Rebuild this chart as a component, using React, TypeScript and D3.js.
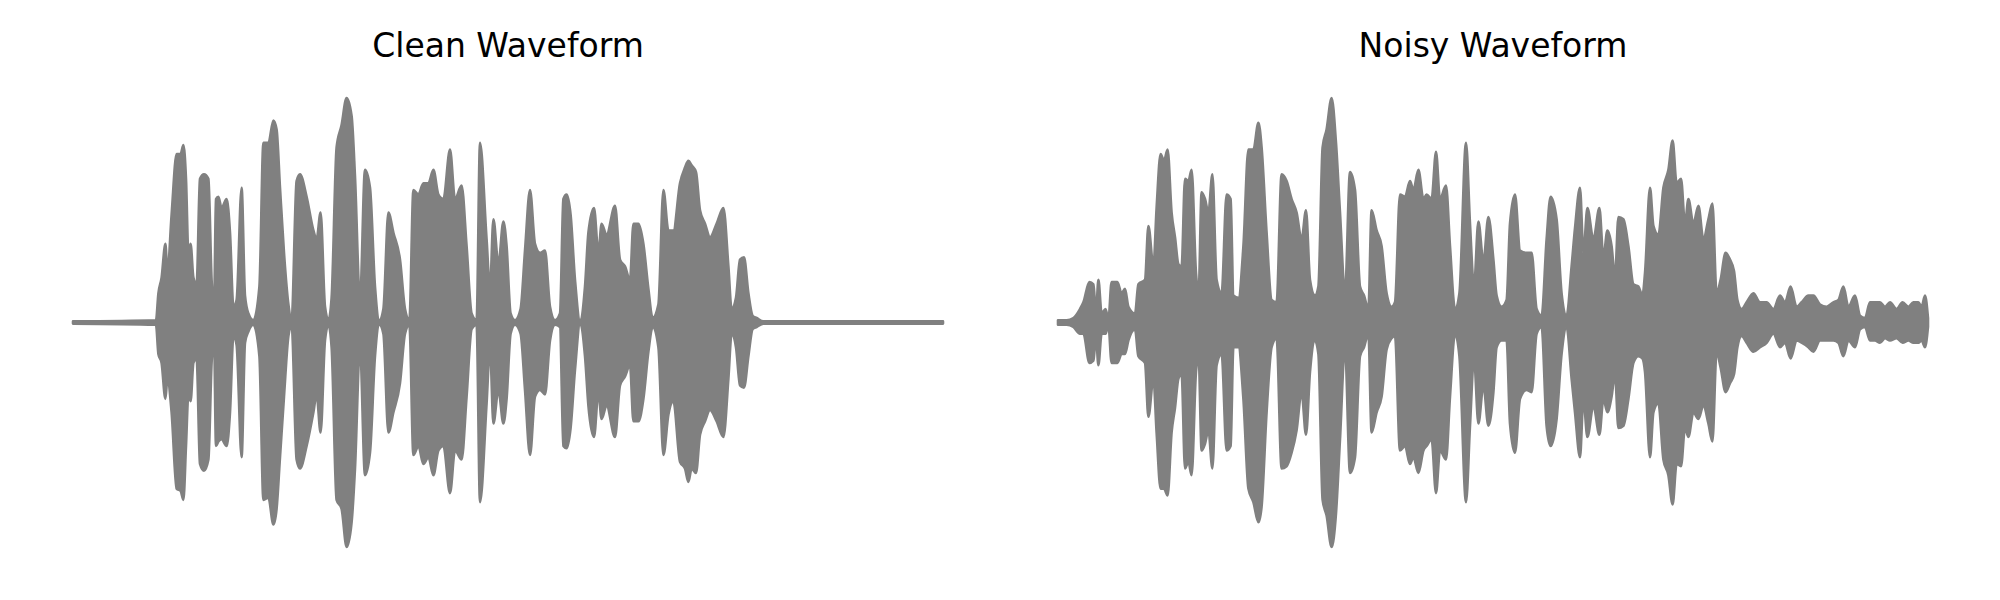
import React from "react";
import * as d3 from "d3";

// envelope of each waveform: time (s), upper peak, lower peak
const cleanTime = [
  0, 0.415, 0.427, 0.443, 0.462, 0.472, 0.493, 0.518, 0.538, 0.552, 0.565, 0.577, 0.588, 0.602, 0.618,
  0.635, 0.655, 0.677, 0.693, 0.705, 0.715, 0.727, 0.743, 0.768, 0.785, 0.802, 0.818, 0.843, 0.86, 0.877,
  0.902, 0.932, 0.952, 0.977, 1.002, 1.018, 1.035, 1.055, 1.077, 1.093, 1.118, 1.135, 1.168, 1.202, 1.218,
  1.238, 1.26, 1.277, 1.293, 1.318, 1.343, 1.368, 1.393, 1.41, 1.435, 1.46, 1.485, 1.51, 1.532, 1.552,
  1.577, 1.602, 1.635, 1.66, 1.682, 1.702, 1.727, 1.752, 1.777, 1.802, 1.827, 1.852, 1.885, 1.91, 1.943,
  1.968, 1.993, 2.018, 2.035, 2.068, 2.085, 2.102, 2.127, 2.152, 2.168, 2.188, 2.21, 2.238, 2.26, 2.285,
  2.31, 2.335, 2.36, 2.385, 2.41, 2.435, 2.452, 2.468, 2.488, 2.51, 2.535, 2.56, 2.577, 2.605, 2.627,
  2.643, 2.668, 2.71, 2.735, 2.76, 2.785, 2.802, 2.827, 2.852, 2.877, 2.898, 2.927, 2.952, 2.977, 3.002,
  3.035, 3.06, 3.077, 3.093, 3.115, 3.135, 3.16, 3.185, 3.218, 3.252, 3.277, 3.293, 3.315, 3.335, 3.355,
  3.377, 3.398, 3.418, 3.452, 4.35,
];
const cleanUpper = [
  0.005, 0.01, 0.13, 0.2, 0.35, 0.22, 0.48, 0.75, 0.75, 0.79, 0.64, 0.31, 0.35, 0.2, 0.17,
  0.64, 0.66, 0.64, 0.19, 0.06, 0.55, 0.56, 0.51, 0.55, 0.4, 0.07, 0.1, 0.6, 0.12, 0.04,
  0.01, 0.16, 0.8, 0.8, 0.9, 0.86, 0.6, 0.31, 0.08, 0.01, 0.63, 0.66, 0.56, 0.41, 0.37,
  0.49, 0.07, 0.01, 0.11, 0.78, 0.88, 1.0, 0.92, 0.65, 0.1, 0.68, 0.6, 0.16, 0.01, 0.06,
  0.49, 0.4, 0.28, 0.06, 0.01, 0.59, 0.57, 0.62, 0.62, 0.68, 0.57, 0.55, 0.77, 0.55, 0.61,
  0.34, 0.04, 0.01, 0.8, 0.37, 0.15, 0.46, 0.26, 0.45, 0.34, 0.04, 0.01, 0.06, 0.32, 0.59,
  0.35, 0.31, 0.32, 0.07, 0.01, 0.04, 0.55, 0.57, 0.48, 0.19, 0.01, 0.16, 0.4, 0.51, 0.31,
  0.44, 0.39, 0.52, 0.28, 0.25, 0.19, 0.44, 0.44, 0.35, 0.15, 0.02, 0.08, 0.59, 0.41, 0.41,
  0.62, 0.69, 0.72, 0.7, 0.67, 0.5, 0.44, 0.38, 0.44, 0.51, 0.25, 0.06, 0.11, 0.28, 0.29,
  0.13, 0.03, 0.02, 0.005, 0.005,
];
const cleanLower = [
  -0.005, -0.01, -0.14, -0.18, -0.34, -0.25, -0.4, -0.74, -0.75, -0.79, -0.55, -0.32, -0.35, -0.18, -0.16,
  -0.63, -0.66, -0.61, -0.18, -0.06, -0.55, -0.53, -0.52, -0.55, -0.4, -0.06, -0.1, -0.6, -0.09, -0.04,
  -0.01, -0.15, -0.79, -0.78, -0.9, -0.83, -0.6, -0.33, -0.06, -0.01, -0.61, -0.65, -0.55, -0.4, -0.32,
  -0.49, -0.08, -0.01, -0.11, -0.79, -0.83, -1.0, -0.89, -0.65, -0.11, -0.68, -0.58, -0.15, -0.01, -0.05,
  -0.49, -0.4, -0.27, -0.05, -0.01, -0.59, -0.55, -0.63, -0.6, -0.68, -0.57, -0.55, -0.76, -0.57, -0.61,
  -0.33, -0.03, -0.01, -0.8, -0.36, -0.11, -0.45, -0.3, -0.45, -0.34, -0.05, -0.01, -0.05, -0.3, -0.59,
  -0.33, -0.3, -0.32, -0.08, -0.01, -0.02, -0.55, -0.56, -0.47, -0.21, -0.01, -0.15, -0.37, -0.51, -0.31,
  -0.43, -0.37, -0.51, -0.28, -0.24, -0.19, -0.44, -0.44, -0.34, -0.13, -0.02, -0.11, -0.59, -0.41, -0.35,
  -0.62, -0.65, -0.71, -0.65, -0.67, -0.5, -0.44, -0.39, -0.44, -0.51, -0.25, -0.05, -0.11, -0.28, -0.29,
  -0.15, -0.03, -0.02, -0.005, -0.005,
];

const noisyTime = [
  0, 0.043, 0.077, 0.11, 0.127, 0.157, 0.177, 0.19, 0.202, 0.218, 0.238, 0.252, 0.268, 0.297, 0.318,
  0.335, 0.352, 0.385, 0.402, 0.435, 0.452, 0.477, 0.493, 0.513, 0.53, 0.548, 0.568, 0.585, 0.602, 0.618,
  0.635, 0.652, 0.668, 0.69, 0.703, 0.718, 0.735, 0.752, 0.772, 0.793, 0.818, 0.843, 0.863, 0.877, 0.902,
  0.927, 0.952, 0.977, 1.002, 1.018, 1.043, 1.068, 1.093, 1.118, 1.143, 1.168, 1.193, 1.218, 1.24, 1.26,
  1.285, 1.302, 1.323, 1.343, 1.368, 1.39, 1.41, 1.435, 1.46, 1.485, 1.51, 1.53, 1.552, 1.568, 1.593,
  1.618, 1.643, 1.668, 1.685, 1.71, 1.735, 1.76, 1.777, 1.802, 1.827, 1.843, 1.868, 1.89, 1.91, 1.94,
  1.96, 1.985, 2.007, 2.04, 2.06, 2.08, 2.102, 2.127, 2.152, 2.177, 2.193, 2.218, 2.243, 2.26, 2.285,
  2.31, 2.343, 2.368, 2.393, 2.418, 2.443, 2.463, 2.493, 2.518, 2.543, 2.568, 2.585, 2.61, 2.627, 2.647,
  2.677, 2.707, 2.727, 2.747, 2.768, 2.785, 2.802, 2.827, 2.852, 2.877, 2.902, 2.922, 2.935, 2.96, 2.977,
  3.002, 3.027, 3.052, 3.073, 3.093, 3.115, 3.135, 3.152, 3.177, 3.202, 3.227, 3.252, 3.272, 3.293, 3.313,
  3.338, 3.36, 3.38, 3.397, 3.418, 3.443, 3.477, 3.51, 3.543, 3.577, 3.61, 3.635, 3.663, 3.693, 3.718,
  3.752, 3.777, 3.81, 3.843, 3.877, 3.902, 3.927, 3.952, 3.985, 4.01, 4.035, 4.06, 4.085, 4.11, 4.135,
  4.16, 4.193, 4.223, 4.252, 4.277, 4.302, 4.318, 4.335, 4.35,
];
const noisyUpper = [
  0.01, 0.01, 0.02, 0.06, 0.09, 0.18, 0.17, 0.04, 0.19, 0.04, 0.06, 0.01, 0.18, 0.18, 0.13,
  0.15, 0.07, 0.04, 0.17, 0.19, 0.43, 0.25, 0.51, 0.75, 0.72, 0.77, 0.49, 0.38, 0.26, 0.25,
  0.64, 0.63, 0.68, 0.22, 0.13, 0.58, 0.55, 0.49, 0.66, 0.19, 0.13, 0.57, 0.55, 0.12, 0.11,
  0.34, 0.77, 0.77, 0.89, 0.78, 0.4, 0.1, 0.09, 0.66, 0.63, 0.55, 0.49, 0.37, 0.5, 0.19,
  0.12, 0.16, 0.78, 0.86, 1.0, 0.8, 0.49, 0.13, 0.67, 0.59, 0.16, 0.12, 0.06, 0.5, 0.41,
  0.34, 0.13, 0.07, 0.09, 0.57, 0.56, 0.63, 0.59, 0.68, 0.55, 0.57, 0.55, 0.76, 0.55, 0.61,
  0.34, 0.06, 0.13, 0.8, 0.44, 0.16, 0.45, 0.27, 0.47, 0.28, 0.12, 0.07, 0.1, 0.44, 0.57,
  0.32, 0.31, 0.31, 0.06, 0.03, 0.37, 0.56, 0.46, 0.13, 0.03, 0.25, 0.42, 0.6, 0.31, 0.51,
  0.37, 0.51, 0.29, 0.41, 0.34, 0.2, 0.47, 0.46, 0.34, 0.17, 0.16, 0.12, 0.22, 0.6, 0.43,
  0.39, 0.6, 0.68, 0.81, 0.62, 0.64, 0.44, 0.55, 0.44, 0.52, 0.37, 0.46, 0.53, 0.13, 0.19,
  0.31, 0.28, 0.23, 0.1, 0.06, 0.09, 0.13, 0.09, 0.09, 0.06, 0.12, 0.09, 0.16, 0.07, 0.09,
  0.12, 0.12, 0.08, 0.07, 0.09, 0.1, 0.16, 0.07, 0.12, 0.03, 0.02, 0.09, 0.09, 0.09, 0.07,
  0.09, 0.06, 0.09, 0.07, 0.09, 0.09, 0.07, 0.12, 0.02,
];
const noisyLower = [
  -0.01, -0.01, -0.02, -0.05, -0.05, -0.18, -0.17, -0.06, -0.19, -0.05, -0.05, -0.01, -0.18, -0.18, -0.14,
  -0.14, -0.08, -0.03, -0.15, -0.18, -0.42, -0.25, -0.49, -0.74, -0.74, -0.77, -0.49, -0.38, -0.25, -0.23,
  -0.65, -0.62, -0.68, -0.22, -0.15, -0.57, -0.54, -0.48, -0.65, -0.19, -0.14, -0.57, -0.55, -0.11, -0.11,
  -0.34, -0.74, -0.8, -0.89, -0.82, -0.4, -0.11, -0.07, -0.65, -0.64, -0.58, -0.48, -0.31, -0.5, -0.22,
  -0.08, -0.14, -0.79, -0.86, -1.0, -0.85, -0.52, -0.11, -0.67, -0.6, -0.15, -0.11, -0.05, -0.49, -0.4,
  -0.33, -0.12, -0.07, -0.06, -0.57, -0.55, -0.63, -0.6, -0.67, -0.57, -0.55, -0.52, -0.76, -0.57, -0.61,
  -0.33, -0.05, -0.15, -0.8, -0.46, -0.16, -0.45, -0.28, -0.46, -0.31, -0.11, -0.08, -0.08, -0.45, -0.58,
  -0.34, -0.3, -0.31, -0.05, -0.02, -0.46, -0.55, -0.43, -0.14, -0.02, -0.25, -0.4, -0.6, -0.34, -0.51,
  -0.37, -0.5, -0.34, -0.4, -0.33, -0.23, -0.47, -0.46, -0.34, -0.18, -0.15, -0.16, -0.22, -0.6, -0.4,
  -0.36, -0.61, -0.68, -0.81, -0.63, -0.64, -0.47, -0.51, -0.4, -0.43, -0.37, -0.45, -0.53, -0.13, -0.2,
  -0.31, -0.27, -0.23, -0.11, -0.06, -0.09, -0.13, -0.11, -0.09, -0.05, -0.11, -0.09, -0.16, -0.08, -0.09,
  -0.11, -0.13, -0.08, -0.08, -0.08, -0.09, -0.15, -0.08, -0.11, -0.03, -0.02, -0.08, -0.08, -0.09, -0.07,
  -0.08, -0.07, -0.09, -0.08, -0.09, -0.09, -0.08, -0.11, -0.02,
];

const titles = ["Clean Waveform", "Noisy Waveform"];

const width = 2000;
const height = 600;
const panels = [
  { left: 73, right: 943 },
  { left: 1058, right: 1928 },
];
const waveColor = "#808080";

type Env = { t: number; hi: number; lo: number };

const toEnv = (time: number[], upper: number[], lower: number[]): Env[] =>
  time.map((t, i) => ({ t, hi: upper[i], lo: lower[i] }));

const series = [
  toEnv(cleanTime, cleanUpper, cleanLower),
  toEnv(noisyTime, noisyUpper, noisyLower),
];

const Waveform: React.FC<{ data: Env[]; left: number; right: number; title: string }> = ({
  data,
  left,
  right,
  title,
}) => {
  const x = d3
    .scaleLinear()
    .domain(d3.extent(data, (d) => d.t) as [number, number])
    .range([left, right]);
  const y = d3.scaleLinear().domain([-1, 1]).range([547, 98]);

  // monotone keeps the rounded bursts without overshooting the read peaks
  const area = d3
    .area<Env>()
    .x((d) => x(d.t))
    .y0((d) => y(d.lo))
    .y1((d) => y(d.hi))
    .curve(d3.curveMonotoneX);

  return (
    <g>
      <text
        x={(left + right) / 2}
        y={57}
        textAnchor="middle"
        fontFamily="DejaVu Sans"
        fontSize={33}
        fill="#000"
      >
        {title}
      </text>
      <path
        d={area(data) ?? ""}
        fill={waveColor}
        stroke={waveColor}
        strokeWidth={2.6}
        strokeLinejoin="round"
        strokeLinecap="round"
      />
    </g>
  );
};

export default function App() {
  return (
    <svg
      width={width}
      height={height}
      style={{ position: "absolute", left: 0, top: 0, background: "#fff" }}
    >
      {series.map((data, i) => (
        <Waveform
          key={titles[i]}
          data={data}
          left={panels[i].left}
          right={panels[i].right}
          title={titles[i]}
        />
      ))}
    </svg>
  );
}
